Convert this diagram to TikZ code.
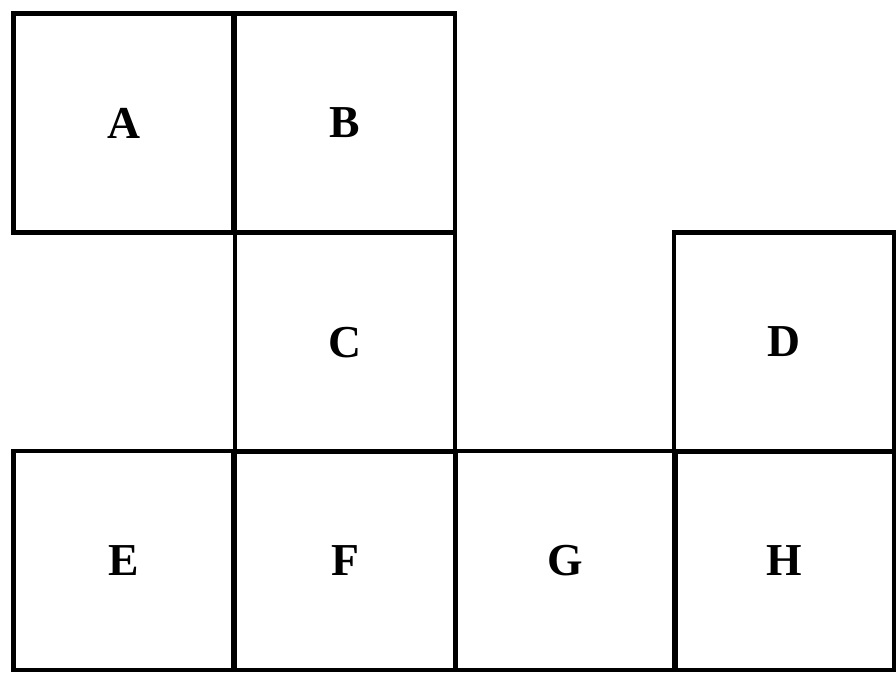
\documentclass[tikz,border=0pt]{standalone}
\usepackage{fontspec}
\setmainfont{Liberation Serif}
\begin{document}
\begin{tikzpicture}[
    cell/.style={rectangle, draw, line width=1.2pt, minimum width=2.2cm, minimum height=2.19cm, font=\fontsize{13}{15}\selectfont\bfseries}
    ]
    \useasboundingbox (0,0) rectangle (8.96,6.73);
    \node [cell] (a) at (1.235,5.50) {A};
    \node [cell] (b) at (3.45,5.50) {B};
    \node [cell] (c) at (3.45,3.305) {C};
    \node [cell] (d) at (7.84,3.31) {D};
    \node [cell] (e) at (1.235,1.125) {E};
    \node [cell] (f) at (3.45,1.125) {F};
    \node [cell] (g) at (5.655,1.125) {G};
    \node [cell] (h) at (7.84,1.125) {H};
\end{tikzpicture}
\end{document}
